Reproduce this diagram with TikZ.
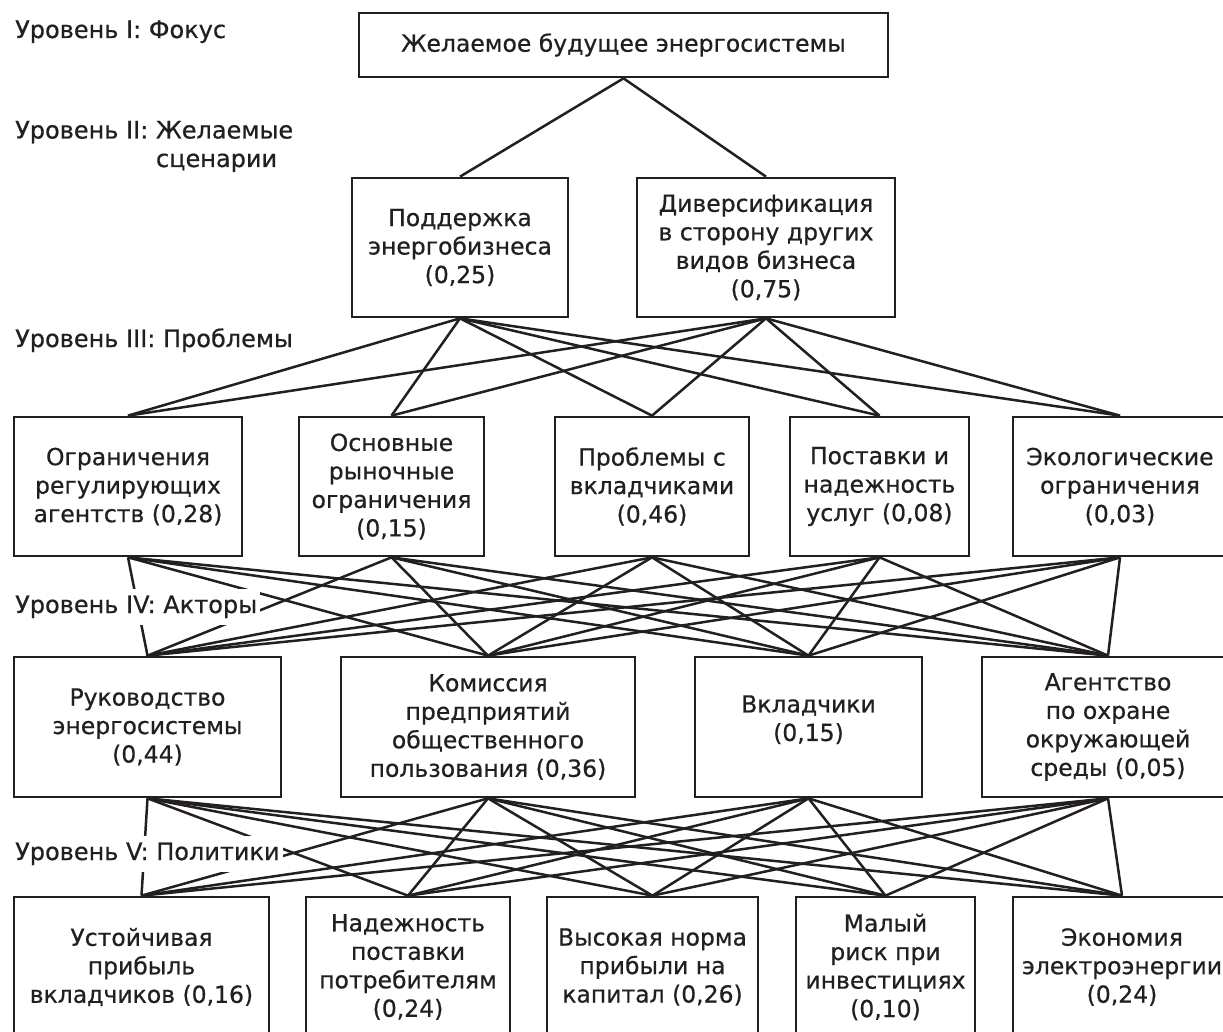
\documentclass[tikz,border=0pt]{standalone}
\usepackage{fontspec}
\setmainfont[FakeBold=0.6]{DejaVu Sans}
\definecolor{ink}{RGB}{35,31,32}
\begin{document}
\begin{tikzpicture}[x=1pt,y=-1pt,
  box/.style={draw=ink, line width=2.7pt, align=center, inner sep=0pt, text=ink,
    font=\fontsize{23.5}{28.5}\selectfont},
  conn/.style={draw=ink, line width=2.5pt},
  lab/.style={fill=white, inner xsep=3pt, inner ysep=7pt, align=left, text=ink,
    anchor=base west, font=\fontsize{24}{28.5}\selectfont}]
\useasboundingbox (0,0) rectangle (1223,1032);

% Level I
\node[box, minimum width=529pt, minimum height=64pt] (top) at (623.5,45) {Желаемое будущее энергосистемы};

% Level II
\node[box, minimum width=216pt, minimum height=139pt] (p) at (460,247.5) {Поддержка\\энергобизнеса\\(0,25)};
\node[box, minimum width=258pt, minimum height=139pt] (d) at (766,247.5) {Диверсификация\\в сторону других\\видов бизнеса\\(0,75)};

% Level III
\node[box, minimum width=228pt, minimum height=139pt] (r1) at (128,486.5) {Ограничения\\регулирующих\\агентств (0,28)};
\node[box, minimum width=185pt, minimum height=139pt] (r2) at (391.5,486.5) {Основные\\рыночные\\ограничения\\(0,15)};
\node[box, minimum width=194pt, minimum height=139pt] (r3) at (652,486.5) {Проблемы с\\вкладчиками\\(0,46)};
\node[box, minimum width=179pt, minimum height=139pt] (r4) at (879.5,486.5) {Поставки и\\надежность\\услуг (0,08)};
\node[box, minimum width=214pt, minimum height=139pt] (r5) at (1120,486.5) {Экологические\\ограничения\\(0,03)};

% Level IV
\node[box, minimum width=267pt, minimum height=140pt] (a1) at (147.5,727) {Руководство\\энергосистемы\\(0,44)};
\node[box, minimum width=294pt, minimum height=140pt] (a2) at (488,727) {Комиссия\\предприятий\\общественного\\пользования (0,36)};
\node[box, minimum width=227pt, minimum height=140pt] (a3) at (808.5,727) {\raisebox{6pt}[\height][\depth]{\begin{tabular}{@{}c@{}}Вкладчики\\(0,15)\end{tabular}}};
\node[box, minimum width=252pt, minimum height=140pt] (a4) at (1108,727) {Агентство\\по охране\\окружающей\\среды (0,05)};

% Level V
\node[box, minimum width=255pt, minimum height=140pt] (s1) at (141.5,967) {Устойчивая\\прибыль\\вкладчиков (0,16)};
\node[box, minimum width=204pt, minimum height=140pt] (s2) at (408,967) {Надежность\\поставки\\потребителям\\(0,24)};
\node[box, minimum width=211pt, minimum height=140pt] (s3) at (652.5,967) {Высокая норма\\прибыли на\\капитал (0,26)};
\node[box, minimum width=179pt, minimum height=140pt] (s4) at (885.5,967) {Малый\\риск при\\инвестициях\\(0,10)};
\node[box, minimum width=218pt, minimum height=140pt] (s5) at (1122,967) {Экономия\\электроэнергии\\(0,24)};

% connectors
\foreach \v in {p,d} \draw[conn] (top.south) -- (\v.north);
\foreach \u in {p,d} \foreach \v in {r1,r2,r3,r4,r5} \draw[conn] (\u.south) -- (\v.north);
\foreach \u in {r1,r2,r3,r4,r5} \foreach \v in {a1,a2,a3,a4} \draw[conn] (\u.south) -- (\v.north);
\foreach \u in {a1,a2,a3,a4} \foreach \v in {s1,s2,s3,s4,s5} \draw[conn] (\u.south) -- (\v.north);

% level labels
\node[lab] (l1) at (12,38) {Уровень I: Фокус};
\node[lab] (l2) at (12,167) {Уровень II: Желаемые\\\phantom{Уровень II: }сценарии};
\node[lab] (l3) at (12,347) {Уровень III: Проблемы};
\node[lab] (l4) at (12,613) {Уровень IV: Акторы};
\node[lab] (l5) at (12,860) {Уровень V: Политики};
\end{tikzpicture}
\end{document}
